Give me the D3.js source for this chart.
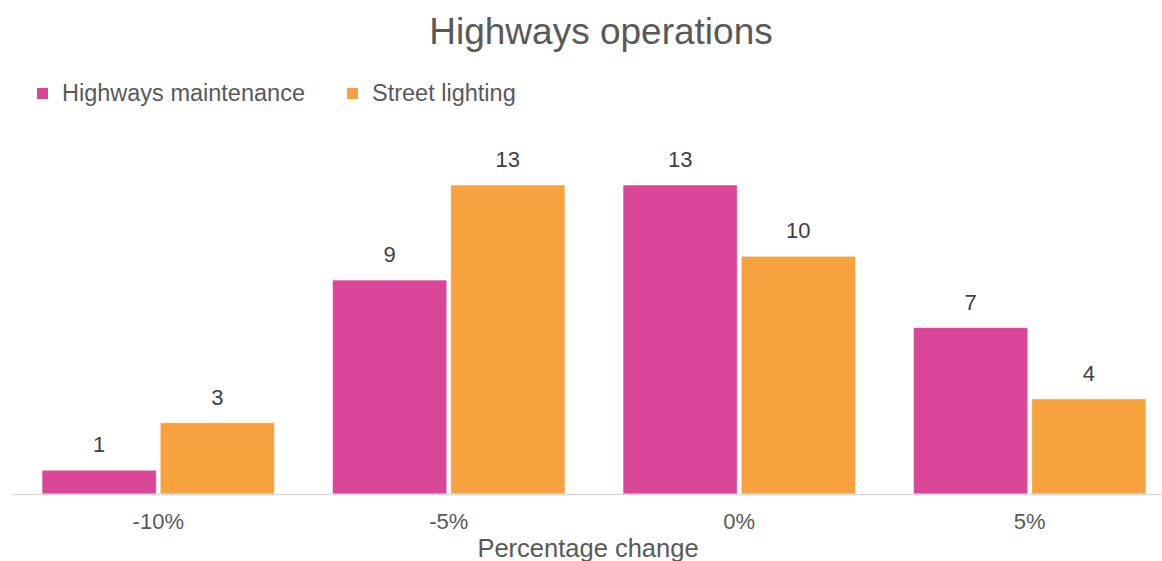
<!DOCTYPE html>
<html>
<head>
<meta charset="utf-8">
<script src="https://cdn.jsdelivr.net/npm/d3@7"></script>
<style>
  html, body { margin: 0; padding: 0; background: #fff; overflow: hidden; }
  text { font-family: "Liberation Sans", Arial, sans-serif; }
</style>
</head>
<body>
<svg id="chart"></svg>
<script>
const categories = ['-10%', '-5%', '0%', '5%'];
const seriesNames = ['Highways maintenance', 'Street lighting'];
const maintenance = [1, 9, 13, 7];
const lighting = [3, 13, 10, 4];

const colors = ['#da4698', '#f7a23f'];
const width = 1162;
const height = 561;
const baseline = 494;

const svg = d3.select('#chart').attr('width', width).attr('height', height);

const x = d3.scaleBand().domain(categories).range([13, 1175])
  .paddingInner(0.2).paddingOuter(0.1);
const xs = d3.scaleBand().domain([0, 1]).range([0, x.bandwidth()]).paddingInner(0.034);
const y = d3.scaleLinear().domain([0, 13]).range([baseline, 185]);

const rows = categories.map((c, i) => ({ cat: c, values: [maintenance[i], lighting[i]] }));

// title
svg.append('text')
  .attr('x', 601).attr('y', 44)
  .attr('text-anchor', 'middle')
  .attr('fill', '#595959')
  .style('font-size', '37px')
  .text('Highways operations');

// legend
const legendX = [37, 347];
const legend = svg.append('g').classed('legend', true).selectAll('g').data(seriesNames).enter()
  .append('g')
  .attr('transform', (d, i) => `translate(${legendX[i]},88)`);
legend.append('rect').attr('width', 11).attr('height', 11).attr('fill', (d, i) => colors[i]);
legend.append('text')
  .attr('x', 25).attr('y', 13)
  .attr('fill', '#595959')
  .style('font-size', '23.5px')
  .text(d => d);

// bars
const groups = svg.append('g').selectAll('g.group').data(rows).enter()
  .append('g').classed('group', true)
  .attr('transform', d => `translate(${x(d.cat)},0)`);

groups.selectAll('rect')
  .data(d => d.values)
  .enter().append('rect')
  .attr('x', (v, i) => xs(i))
  .attr('width', xs.bandwidth())
  .attr('y', v => y(v))
  .attr('height', v => baseline - y(v))
  .attr('fill', (v, i) => colors[i])
  .attr('stroke', '#fff')
  .attr('stroke-opacity', 0.5)
  .attr('stroke-width', 1);

groups.selectAll('text')
  .data(d => d.values)
  .enter().append('text')
  .attr('x', (v, i) => xs(i) + xs.bandwidth() / 2)
  .attr('y', v => y(v) - 18)
  .attr('text-anchor', 'middle')
  .attr('fill', '#404040')
  .style('font-size', '22px')
  .text(v => v);

// x axis
const axis = svg.append('g')
  .attr('transform', `translate(0,${baseline})`)
  .call(d3.axisBottom(x).tickSize(0).tickPadding(19));
axis.select('.domain').attr('stroke', '#d9d9d9').attr('stroke-width', 1.5)
  .attr('d', `M13,0.5H1162`);
axis.selectAll('.tick text')
  .attr('fill', '#595959')
  .style('font-size', '22px')
  .style('font-family', '"Liberation Sans", Arial, sans-serif');

svg.append('text')
  .attr('x', 588).attr('y', 557)
  .attr('text-anchor', 'middle')
  .attr('fill', '#595959')
  .style('font-size', '25.5px')
  .text('Percentage change');
</script>
</body>
</html>
